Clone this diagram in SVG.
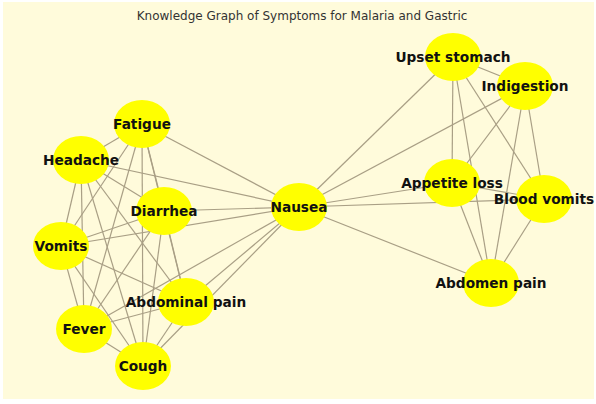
<svg xmlns="http://www.w3.org/2000/svg" width="596" height="404" viewBox="0 0 596 404">
<style>
.bg{fill:#fffbdb}
.e{stroke:#a99f85;stroke-width:1.2;fill:none}
.n{fill:#ffff00}
.t{font-family:"DejaVu Sans",sans-serif;font-weight:bold;font-size:13.7px;fill:#111;text-anchor:middle;dominant-baseline:central}
.title{font-family:"DejaVu Sans",sans-serif;font-size:12px;fill:#333;text-anchor:middle}
</style>
<rect x="0" y="0" width="596" height="404" fill="#ffffff"/>
<rect class="bg" x="3" y="2" width="591" height="397"/>
<text class="title" x="302" y="20">Knowledge Graph of Symptoms for Malaria and Gastric</text>
<g id="connectors">
<line class="e" x1="142" y1="124" x2="81" y2="160"/>
<line class="e" x1="142" y1="124" x2="164" y2="211"/>
<line class="e" x1="142" y1="124" x2="61" y2="246"/>
<line class="e" x1="142" y1="124" x2="186" y2="302"/>
<line class="e" x1="142" y1="124" x2="84" y2="329"/>
<line class="e" x1="142" y1="124" x2="143" y2="366"/>
<line class="e" x1="142" y1="124" x2="299" y2="207"/>
<line class="e" x1="81" y1="160" x2="164" y2="211"/>
<line class="e" x1="81" y1="160" x2="61" y2="246"/>
<line class="e" x1="81" y1="160" x2="186" y2="302"/>
<line class="e" x1="81" y1="160" x2="84" y2="329"/>
<line class="e" x1="81" y1="160" x2="143" y2="366"/>
<line class="e" x1="81" y1="160" x2="299" y2="207"/>
<line class="e" x1="164" y1="211" x2="61" y2="246"/>
<line class="e" x1="164" y1="211" x2="186" y2="302"/>
<line class="e" x1="164" y1="211" x2="84" y2="329"/>
<line class="e" x1="164" y1="211" x2="143" y2="366"/>
<line class="e" x1="164" y1="211" x2="299" y2="207"/>
<line class="e" x1="61" y1="246" x2="186" y2="302"/>
<line class="e" x1="61" y1="246" x2="84" y2="329"/>
<line class="e" x1="61" y1="246" x2="143" y2="366"/>
<line class="e" x1="61" y1="246" x2="299" y2="207"/>
<line class="e" x1="186" y1="302" x2="84" y2="329"/>
<line class="e" x1="186" y1="302" x2="143" y2="366"/>
<line class="e" x1="186" y1="302" x2="299" y2="207"/>
<line class="e" x1="84" y1="329" x2="143" y2="366"/>
<line class="e" x1="84" y1="329" x2="299" y2="207"/>
<line class="e" x1="143" y1="366" x2="299" y2="207"/>
<line class="e" x1="299" y1="207" x2="453" y2="57"/>
<line class="e" x1="299" y1="207" x2="525" y2="86"/>
<line class="e" x1="299" y1="207" x2="452" y2="183"/>
<line class="e" x1="299" y1="207" x2="544" y2="199"/>
<line class="e" x1="299" y1="207" x2="491" y2="283"/>
<line class="e" x1="453" y1="57" x2="525" y2="86"/>
<line class="e" x1="453" y1="57" x2="452" y2="183"/>
<line class="e" x1="453" y1="57" x2="544" y2="199"/>
<line class="e" x1="453" y1="57" x2="491" y2="283"/>
<line class="e" x1="525" y1="86" x2="452" y2="183"/>
<line class="e" x1="525" y1="86" x2="544" y2="199"/>
<line class="e" x1="525" y1="86" x2="491" y2="283"/>
<line class="e" x1="452" y1="183" x2="544" y2="199"/>
<line class="e" x1="452" y1="183" x2="491" y2="283"/>
<line class="e" x1="544" y1="199" x2="491" y2="283"/>
</g>
<g id="fatigue"><ellipse class="n" cx="142" cy="124" rx="28" ry="24"/><text class="t" x="142" y="124">Fatigue</text></g>
<g id="headache"><ellipse class="n" cx="81" cy="160" rx="28" ry="24"/><text class="t" x="81" y="160">Headache</text></g>
<g id="diarrhea"><ellipse class="n" cx="164" cy="211" rx="28" ry="24"/><text class="t" x="164" y="211">Diarrhea</text></g>
<g id="vomits"><ellipse class="n" cx="61" cy="246" rx="28" ry="24"/><text class="t" x="61" y="246">Vomits</text></g>
<g id="abdominal-pain"><ellipse class="n" cx="186" cy="302" rx="28" ry="24"/><text class="t" x="186" y="302">Abdominal pain</text></g>
<g id="fever"><ellipse class="n" cx="84" cy="329" rx="28" ry="24"/><text class="t" x="84" y="329">Fever</text></g>
<g id="cough"><ellipse class="n" cx="143" cy="366" rx="28" ry="24"/><text class="t" x="143" y="366">Cough</text></g>
<g id="nausea"><ellipse class="n" cx="299" cy="207" rx="28" ry="24"/><text class="t" x="299" y="207">Nausea</text></g>
<g id="upset-stomach"><ellipse class="n" cx="453" cy="57" rx="28" ry="24"/><text class="t" x="453" y="57">Upset stomach</text></g>
<g id="indigestion"><ellipse class="n" cx="525" cy="86" rx="28" ry="24"/><text class="t" x="525" y="86">Indigestion</text></g>
<g id="appetite-loss"><ellipse class="n" cx="452" cy="183" rx="28" ry="24"/><text class="t" x="452" y="183">Appetite loss</text></g>
<g id="blood-vomits"><ellipse class="n" cx="544" cy="199" rx="28" ry="24"/><text class="t" x="544" y="199">Blood vomits</text></g>
<g id="abdomen-pain"><ellipse class="n" cx="491" cy="283" rx="28" ry="24"/><text class="t" x="491" y="283">Abdomen pain</text></g>
</svg>
